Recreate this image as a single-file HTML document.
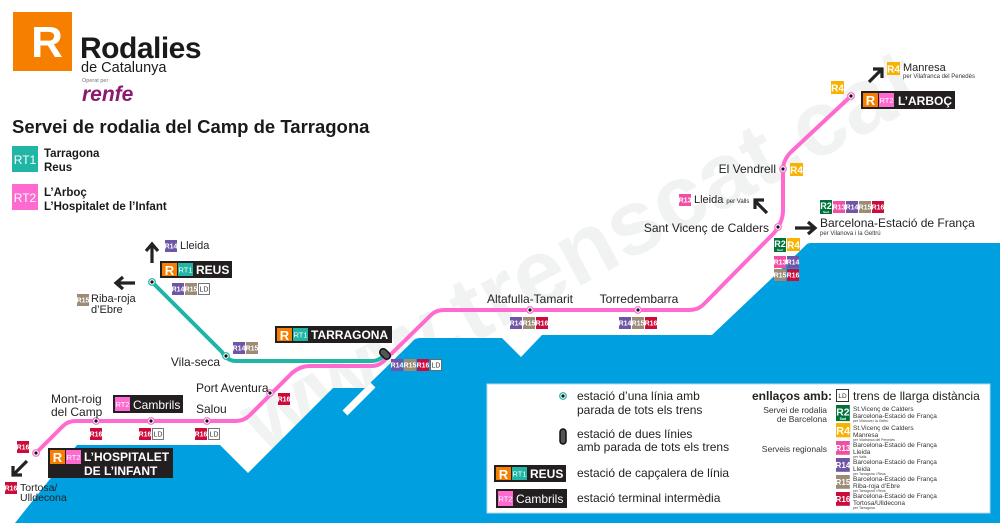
<!DOCTYPE html>
<html><head><meta charset="utf-8">
<style>
html,body{margin:0;padding:0;background:#fff;}
svg{display:block;}
text{font-family:"Liberation Sans",sans-serif;}
.b{font-size:7px;fill:#fff;text-anchor:middle;font-weight:bold;}
.s{font-size:12px;fill:#222;}
.lg{font-size:12px;fill:#222;}
.sm{font-size:6.5px;fill:#333;}
.tiny{font-size:3.5px;fill:#444;}
</style></head><body>
<svg width="1000" height="523" viewBox="0 0 1000 523" xmlns="http://www.w3.org/2000/svg">
<defs>
<g id="r13"><rect width="12" height="12" fill="#f04fa5"/><text x="6" y="8.5" class="b">R13</text></g>
<g id="r14"><rect width="12" height="12" fill="#6e55a6"/><text x="6" y="8.5" class="b">R14</text></g>
<g id="r15"><rect width="12" height="12" fill="#9d8b76"/><text x="6" y="8.5" class="b">R15</text></g>
<g id="r16"><rect width="12" height="12" fill="#cc0a3c"/><text x="6" y="8.5" class="b">R16</text></g>
<g id="r4"><rect width="13" height="13" fill="#f8b200"/><text x="6.5" y="10.5" class="b" style="font-size:10px">R4</text></g>
<g id="r2"><rect width="12" height="14" fill="#00733b"/><text x="6" y="9" class="b" style="font-size:9px">R2</text><text x="6" y="13" class="b" style="font-size:3px">Sud</text></g>
<g id="ld"><rect x="0.5" y="0.5" width="11" height="11" fill="#fff" stroke="#555" stroke-width="0.8"/><text x="6" y="8.5" class="b" style="fill:#333;font-weight:normal">LD</text></g>
<g id="st"><circle r="3.3" fill="#fff" stroke="#ff6ad0" stroke-width="1.2"/><circle r="1.6" fill="#111"/></g>
<g id="stt"><circle r="3.3" fill="#fff" stroke="#20b5a5" stroke-width="1.2"/><circle r="1.6" fill="#111"/></g>
</defs>

<text x="0" y="0" transform="translate(262,455) rotate(-28)" style="font-size:92px;font-weight:bold;fill:#f1f3f2">www.trenscat.cat</text>

<path d="M15,523 L77,445 L220,445 L248,473 L333,388 L365,388 L412,342 Q415,338 420,338 L502,338 L521,357 L542,335 L712,335 L770,280 L805,246 Q807,243 811,243 L1000,243 L1000,523 Z" fill="#009fe0"/>
<line x1="345" y1="413" x2="373" y2="385" stroke="#fff" stroke-width="7"/>

<rect x="487" y="384" width="503" height="129" fill="#fff" stroke="#b9d9ea" stroke-width="1"/>

<path d="M152,282 L222,352 Q227,361 236,361 L372,361 Q380,361 386,353" fill="none" stroke="#20b5a5" stroke-width="4"/>
<path d="M36,453 L63,426 Q68,421 76,421 L236,421 Q244,421 250,415 L292,373 Q300,366 310,366 L372,366 Q379,366 385,360 L431,315 Q436,310 444,310 L690,310 Q698,310 704,304 L774,233 Q783,222 783,210 L783,170 Q783,160 791,152 L851,96" fill="none" stroke="#ff6ad0" stroke-width="4"/>

<use href="#stt" x="152" y="282"/>
<use href="#stt" x="226" y="356"/>
<use href="#st" x="270" y="393"/>
<use href="#st" x="96" y="421"/>
<use href="#st" x="151" y="421"/>
<use href="#st" x="207" y="421"/>
<use href="#st" x="36" y="453"/>
<use href="#st" x="530" y="310"/>
<use href="#st" x="638" y="310"/>
<use href="#st" x="778" y="227"/>
<use href="#st" x="783" y="169"/>
<use href="#st" x="851" y="96"/>
<rect x="-3.5" y="-6" width="7" height="12" rx="3.5" transform="translate(385,354) rotate(-45)" fill="#555" stroke="#111" stroke-width="1.5"/>

<rect x="13" y="12" width="59" height="59" fill="#f77f00"/>
<text x="47" y="57" style="font-size:44px;font-weight:bold;fill:#fff" text-anchor="middle">R</text>
<text x="80" y="58" style="font-size:30px;font-weight:bold;fill:#1a1a1a;letter-spacing:-0.5px">Rodalies</text>
<text x="81" y="72" style="font-size:14.5px;fill:#1a1a1a">de Catalunya</text>
<text x="82" y="82" style="font-size:5.5px;fill:#777">Operat per</text>
<text x="82" y="101" style="font-size:21px;font-weight:bold;font-style:italic;fill:#8c1a6e">renfe</text>
<text x="12" y="133" style="font-size:18.5px;font-weight:bold;fill:#1a1a1a">Servei de rodalia del Camp de Tarragona</text>
<rect x="12" y="146" width="26" height="26" fill="#20b5a5"/><text x="25" y="164" class="b" style="font-size:12px;font-weight:normal">RT1</text>
<text x="44" y="157" style="font-size:11.5px;font-weight:bold;fill:#1a1a1a">Tarragona</text>
<text x="44" y="171" style="font-size:11.5px;font-weight:bold;fill:#1a1a1a">Reus</text>
<rect x="12" y="184" width="26" height="26" fill="#ff6ad0"/><text x="25" y="202" class="b" style="font-size:12px;font-weight:normal">RT2</text>
<text x="44" y="196" style="font-size:11.5px;font-weight:bold;fill:#1a1a1a">L’Arboç</text>
<text x="44" y="210" style="font-size:11.5px;font-weight:bold;fill:#1a1a1a">L’Hospitalet de l’Infant</text>

<g fill="none" stroke="#222" stroke-width="3.2">
<path d="M152,263 L152,246 M146,251 L152,244 L158,251"/>
<path d="M135,283 L117,283 M123,277 L116,283 L123,289"/>
<path d="M27,461 L14,474 M13,466 L13,475 L22,475"/>
<path d="M767,213 L755,201 M755,209 L755,200 L764,200"/>
<path d="M795,228 L813,228 M808,222 L815,228 L808,234"/>
<path d="M869,82 L881,70 M873,69 L882,69 L882,78"/>
</g>

<rect x="160" y="261" width="72" height="17" fill="#231f20"/>
<rect x="162" y="263" width="15" height="13" fill="#f77f00"/><text x="169.5" y="275" class="b" style="font-size:13px">R</text>
<rect x="178" y="263" width="15" height="13" fill="#20b5a5"/><text x="185.5" y="272.5" class="b" style="font-size:7.5px;font-weight:normal">RT1</text>
<text x="196" y="274" style="font-size:12px;font-weight:bold;fill:#fff">REUS</text>
<use href="#r14" x="165" y="240"/><text x="180" y="249" class="s" style="font-size:11px">Lleida</text>
<use href="#r14" x="172" y="283"/><use href="#r15" x="185" y="283"/><use href="#ld" x="198" y="283"/>
<use href="#r15" x="77" y="294"/><text x="91" y="302" class="s" style="font-size:11px">Riba-roja</text><text x="91" y="313" class="s" style="font-size:11px">d’Ebre</text>

<text x="220" y="366" class="s" text-anchor="end">Vila-seca</text>
<use href="#r14" x="233" y="342"/><use href="#r15" x="246" y="342"/>

<rect x="275" y="326" width="117" height="17" fill="#231f20"/>
<rect x="277" y="328" width="15" height="13" fill="#f77f00"/><text x="284.5" y="340" class="b" style="font-size:13px">R</text>
<rect x="293" y="328" width="15" height="13" fill="#20b5a5"/><text x="300.5" y="337.5" class="b" style="font-size:7.5px;font-weight:normal">RT1</text>
<text x="311" y="339" style="font-size:12px;font-weight:bold;fill:#fff">TARRAGONA</text>
<use href="#r14" x="391" y="359"/><use href="#r15" x="404" y="359"/><use href="#r16" x="417" y="359"/><use href="#ld" x="430" y="359"/>

<text x="196" y="392" class="s">Port Aventura</text>
<use href="#r16" x="278" y="393"/>
<text x="196" y="413" class="s">Salou</text>
<text x="51" y="403" class="s">Mont-roig</text><text x="51" y="416" class="s">del Camp</text>
<rect x="113" y="395" width="70" height="18" fill="#231f20"/>
<rect x="115" y="397" width="15" height="14" fill="#ff6ad0"/><text x="122.5" y="407" class="b" style="font-size:7.5px;font-weight:normal">RT2</text>
<text x="133" y="409" style="font-size:12px;fill:#fff">Cambrils</text>
<use href="#r16" x="90" y="428"/>
<use href="#r16" x="139" y="428"/><use href="#ld" x="152" y="428"/>
<use href="#r16" x="195" y="428"/><use href="#ld" x="208" y="428"/>
<use href="#r16" x="17" y="441"/>

<rect x="48" y="448" width="125" height="30" fill="#231f20"/>
<rect x="50" y="450" width="15" height="14" fill="#f77f00"/><text x="57.5" y="462" class="b" style="font-size:13px">R</text>
<rect x="66" y="450" width="15" height="14" fill="#ff6ad0"/><text x="73.5" y="460" class="b" style="font-size:7.5px;font-weight:normal">RT2</text>
<text x="84" y="461" style="font-size:12px;font-weight:bold;fill:#fff">L’HOSPITALET</text>
<text x="84" y="475" style="font-size:12px;font-weight:bold;fill:#fff">DE L’INFANT</text>
<use href="#r16" x="5" y="482"/><text x="20" y="491" class="s" style="font-size:10.5px">Tortosa/</text><text x="20" y="501" class="s" style="font-size:10.5px">Ulldecona</text>

<text x="530" y="303" class="s" text-anchor="middle">Altafulla-Tamarit</text>
<use href="#r14" x="510" y="317"/><use href="#r15" x="523" y="317"/><use href="#r16" x="536" y="317"/>
<text x="639" y="303" class="s" text-anchor="middle">Torredembarra</text>
<use href="#r14" x="619" y="317"/><use href="#r15" x="632" y="317"/><use href="#r16" x="645" y="317"/>

<text x="769" y="232" class="s" text-anchor="end">Sant Vicenç de Calders</text>
<use href="#r2" x="774" y="238"/><use href="#r4" x="787" y="238"/>
<use href="#r13" x="774" y="256"/><use href="#r14" x="787" y="256"/>
<use href="#r15" x="774" y="269"/><use href="#r16" x="787" y="269"/>
<use href="#r2" x="820" y="200"/><use href="#r13" x="833" y="201"/><use href="#r14" x="846" y="201"/><use href="#r15" x="859" y="201"/><use href="#r16" x="872" y="201"/>
<text x="820" y="227" class="s">Barcelona-Estació de França</text>
<text x="820" y="235" class="sm" style="font-size:6px">per Vilanova i la Geltrú</text>
<use href="#r13" x="679" y="194"/><text x="694" y="203" class="s" style="font-size:11px">Lleida <tspan style="font-size:6px">per Valls</tspan></text>
<text x="776" y="173" class="s" text-anchor="end">El Vendrell</text>
<use href="#r4" x="790" y="163"/>
<use href="#r4" x="831" y="81"/>
<rect x="861" y="91" width="94" height="18" fill="#231f20"/>
<rect x="863" y="93" width="15" height="14" fill="#f77f00"/><text x="870.5" y="105" class="b" style="font-size:13px">R</text>
<rect x="879" y="93" width="15" height="14" fill="#ff6ad0"/><text x="886.5" y="103" class="b" style="font-size:7.5px;font-weight:normal">RT2</text>
<text x="898" y="105" style="font-size:12px;font-weight:bold;fill:#fff">L’ARBOÇ</text>
<use href="#r4" x="887" y="62"/><text x="903" y="71" class="s" style="font-size:11px">Manresa</text>
<text x="903" y="78" class="sm" style="font-size:6px">per Vilafranca del Penedès</text>

<use href="#stt" x="563" y="396"/>
<text x="577" y="400" class="lg">estació d’una línia amb</text>
<text x="577" y="414" class="lg">parada de tots els trens</text>
<rect x="560" y="429" width="6" height="15" rx="3" fill="#555" stroke="#111" stroke-width="1.5"/>
<text x="577" y="438" class="lg">estació de dues línies</text>
<text x="577" y="451" class="lg">amb parada de tots els trens</text>
<rect x="494" y="465" width="72" height="17" fill="#231f20"/>
<rect x="496" y="467" width="15" height="13" fill="#f77f00"/><text x="503.5" y="479" class="b" style="font-size:13px">R</text>
<rect x="512" y="467" width="15" height="13" fill="#20b5a5"/><text x="519.5" y="476.5" class="b" style="font-size:7.5px;font-weight:normal">RT1</text>
<text x="530" y="478" style="font-size:12px;font-weight:bold;fill:#fff">REUS</text>
<text x="577" y="477" class="lg">estació de capçalera de línia</text>
<rect x="496" y="489" width="71" height="19" fill="#231f20"/>
<rect x="498" y="491" width="15" height="15" fill="#ff6ad0"/><text x="505.5" y="501.5" class="b" style="font-size:7.5px;font-weight:normal">RT2</text>
<text x="516" y="503" style="font-size:12px;fill:#fff">Cambrils</text>
<text x="577" y="502" class="lg">estació terminal intermèdia</text>

<text x="752" y="400" style="font-size:12px;font-weight:bold;fill:#222">enllaços amb:</text>
<rect x="836.5" y="389.5" width="12" height="12" fill="#fff" stroke="#333"/><text x="842.5" y="398" class="b" style="fill:#333;font-weight:normal;font-size:6.5px">LD</text>
<text x="853" y="400" class="lg">trens de llarga distància</text>
<text x="827" y="413" class="sm" text-anchor="end" style="font-size:8.5px">Servei de rodalia</text>
<text x="827" y="422" class="sm" text-anchor="end" style="font-size:8.5px">de Barcelona</text>
<text x="827" y="452" class="sm" text-anchor="end" style="font-size:8.5px">Serveis regionals</text>
<g transform="translate(836,405) scale(1.15)"><use href="#r2"/></g>
<g transform="translate(836,423) scale(1.1)"><use href="#r4"/></g>
<g transform="translate(836,441) scale(1.15)"><use href="#r13"/></g>
<g transform="translate(836,458) scale(1.15)"><use href="#r14"/></g>
<g transform="translate(836,475) scale(1.15)"><use href="#r15"/></g>
<g transform="translate(836,492) scale(1.15)"><use href="#r16"/></g>
<g class="sm">
<text x="853" y="411">St.Vicenç de Calders</text><text x="853" y="418">Barcelona-Estació de França</text><text x="853" y="422" class="tiny">per Vilanova i la Geltrú</text>
<text x="853" y="430">St.Vicenç de Calders</text><text x="853" y="437">Manresa</text><text x="853" y="441" class="tiny">per Vilafranca del Penedès</text>
<text x="853" y="447">Barcelona-Estació de França</text><text x="853" y="454">Lleida</text><text x="853" y="458" class="tiny">per Valls</text>
<text x="853" y="464">Barcelona-Estació de França</text><text x="853" y="471">Lleida</text><text x="853" y="475" class="tiny">per Tarragona i Reus</text>
<text x="853" y="481">Barcelona-Estació de França</text><text x="853" y="488">Riba-roja d’Ebre</text><text x="853" y="492" class="tiny">per Tarragona i Reus</text>
<text x="853" y="498">Barcelona-Estació de França</text><text x="853" y="505">Tortosa/Ulldecona</text><text x="853" y="509" class="tiny">per Tarragona</text>
</g>
</svg>
</body></html>
